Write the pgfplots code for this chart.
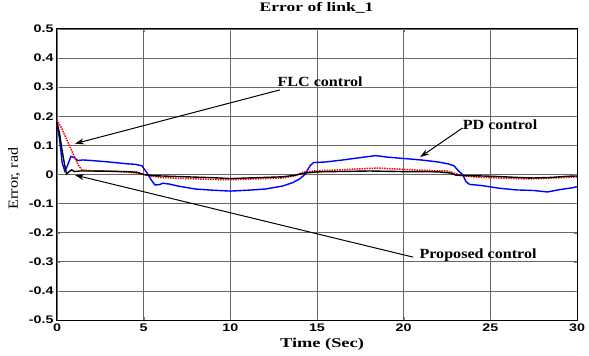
\documentclass[border=0pt]{standalone}
\usepackage{pgfplots}
\pgfplotsset{compat=1.18}
\usepackage{fontspec}
\setmainfont{Liberation Serif}[FakeStretch=1.15]
\newfontfamily\titlefont{Liberation Serif}[FakeStretch=1.35]
\newfontfamily\xlabfont{Liberation Serif}[FakeStretch=1.36]
\newfontfamily\arialfont{Liberation Sans}[FakeStretch=1.3]
\usetikzlibrary{arrows.meta}
\begin{document}
\begin{tikzpicture}
\path[use as bounding box] (0pt,0pt) rectangle (589pt,356pt);
\begin{axis}[
  at={(57pt,36pt)}, anchor=south west, scale only axis,
  width=520pt, height=291pt,
  xmin=0, xmax=30, ymin=-0.5, ymax=0.5,
  xtick={0,5,10,15,20,25,30},
  xticklabels={0,5,10,15,20,25,30},
  ytick={-0.5,-0.4,-0.3,-0.2,-0.1,0,0.1,0.2,0.3,0.4,0.5},
  yticklabels={-0.5,-0.4,-0.3,-0.2,-0.1,0,0.1,0.2,0.3,0.4,0.5},
  tick label style={font=\arialfont\bfseries\fontsize{11}{13}\selectfont},
  tick align=inside, major tick length=3pt,
  grid=major, grid style={black!60, line width=0.6pt},
  axis line style={line width=1pt},
  title={Error of link\_1},
  title style={font=\titlefont\bfseries\fontsize{13}{15}\selectfont, at={(axis description cs:0.499,1.0515)}, anchor=center},
  xlabel={Time (Sec)},
  xlabel style={font=\xlabfont\bfseries\fontsize{13.5}{15}\selectfont, at={(axis description cs:0.5096,-0.0825)}, anchor=center},
  ylabel={Error, rad},
  ylabel style={font=\fontsize{14}{16}\selectfont, at={(axis description cs:-0.0827,0.486)}, anchor=center},
  clip=false,
]
% PD control (blue)
\addplot[blue, line width=1.4pt] coordinates {
(0,0.18) (0.15,0.12) (0.3,0.04) (0.45,0.012) (0.6,0.03) (0.8,0.062) (1.0,0.058)
(1.2,0.048) (1.5,0.05) (2.0,0.048) (3.0,0.043) (4.0,0.037) (4.5,0.035) (4.9,0.03)
(5.2,0.005) (5.45,-0.02) (5.65,-0.036) (5.9,-0.035) (6.1,-0.03) (6.5,-0.033) (7,-0.04)
(8,-0.05) (9,-0.054) (10,-0.057) (11,-0.054) (12,-0.05) (13,-0.04) (13.6,-0.028)
(14,-0.015) (14.3,0.0) (14.6,0.03) (14.8,0.041) (15.5,0.043) (16.5,0.05) (17.5,0.058)
(18.4,0.065) (19,0.06) (20,0.055) (21,0.05) (22,0.043) (22.6,0.036) (22.9,0.03)
(23.2,0.01) (23.4,0) (23.6,-0.025) (23.8,-0.034) (24.5,-0.038) (25.5,-0.047)
(26.5,-0.053) (27.5,-0.055) (28.3,-0.06) (29,-0.052) (29.7,-0.046) (30,-0.042)
};
% FLC control (red dotted)
\addplot[red, line width=1.5pt, densely dotted] coordinates {
(0,0.188) (0.3,0.155) (0.6,0.115) (0.9,0.075) (1.2,0.035) (1.45,0.015) (2,0.013)
(3,0.012) (4,0.008) (4.7,0.004) (5.2,-0.003) (6,-0.01) (7,-0.013) (8,-0.015)
(9,-0.017) (10,-0.018) (11,-0.016) (12,-0.014) (13,-0.012) (13.7,-0.005) (14.2,0.008)
(15,0.013) (16,0.015) (17,0.018) (18,0.021) (18.5,0.022) (19.5,0.019) (20.5,0.016)
(21.5,0.014) (22.5,0.012) (22.9,0.005) (23.3,-0.003) (24,-0.008) (25,-0.011)
(26,-0.013) (27,-0.015) (28,-0.014) (29,-0.011) (30,-0.008)
};
% Proposed control (black)
\addplot[black, line width=1.4pt] coordinates {
(0,0.178) (0.15,0.14) (0.3,0.08) (0.45,0.03) (0.55,0.002) (0.7,0.01) (0.85,0.016)
(1.0,0.01) (1.3,0.012) (2,0.012) (3,0.011) (4,0.01) (4.6,0.008) (5,0.0) (5.5,-0.004)
(6,-0.005) (7,-0.007) (8,-0.009) (9,-0.011) (10,-0.014) (11,-0.012) (12,-0.01)
(13,-0.008) (13.7,-0.003) (14.3,0.005) (15,0.009) (16,0.01) (17,0.011) (18,0.012)
(19,0.011) (20,0.01) (21,0.01) (22,0.009) (22.7,0.005) (23,-0.002) (23.5,-0.004)
(24.5,-0.005) (25.5,-0.007) (26.5,-0.01) (27.5,-0.012) (28.5,-0.01) (29.5,-0.006)
(30,-0.005)
};
% annotations
\draw[line width=1pt, -{Stealth[length=9pt,width=6pt]}] (axis cs:12.87,0.291) -- (axis cs:1.04,0.106);
\draw[line width=1pt, -{Stealth[length=9pt,width=6pt]}] (axis cs:23.4,0.16) -- (axis cs:20.95,0.06);
\draw[line width=1pt, -{Stealth[length=9pt,width=6pt]}] (axis cs:20.55,-0.284) -- (axis cs:1.04,-0.002);
\node[font=\bfseries\fontsize{14}{16}\selectfont] at (axis cs:15.18,0.319) {FLC control};
\node[font=\bfseries\fontsize{14}{16}\selectfont] at (axis cs:25.56,0.171) {PD control};
\node[font=\bfseries\fontsize{14}{16}\selectfont] at (axis cs:24.29,-0.278) {Proposed control};
\end{axis}
\end{tikzpicture}
\end{document}
